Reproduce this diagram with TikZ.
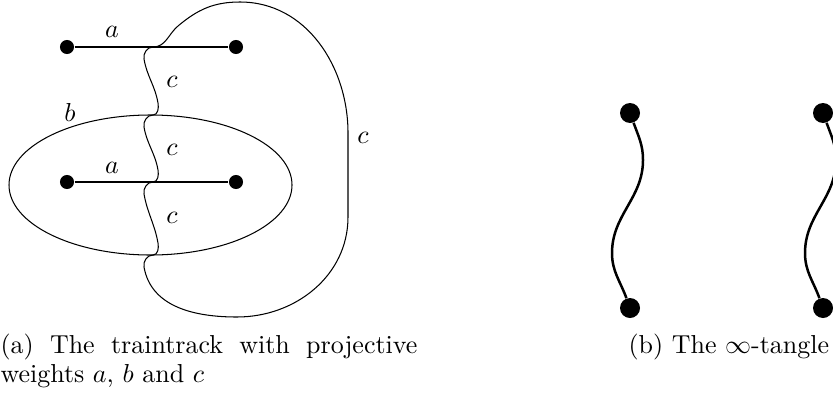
\documentclass[tikz,border=0pt]{standalone}
\usetikzlibrary{positioning}

\begin{document}
\begin{tikzpicture}[
    x=0.385pt, y=0.385pt,
    track/.style={line width=0.4pt},
    bar/.style={line width=0.6pt},
    dot/.style={circle, fill, inner sep=0pt, minimum size=5.4pt},
    bigdot/.style={circle, fill, inner sep=0pt, minimum size=7.7pt},
    strand/.style={line width=0.96pt},
    caption/.style={inner sep=0pt, font=\fontsize{10}{11.2}\selectfont}
]
    \clip (0,0) rectangle (833,393);

    % (a) the traintrack
    \node[dot] (tl) at (67,346) {};
    \node[dot] (tr) at (236,346) {};
    \node[dot] (bl) at (67,211) {};
    \node[dot] (br) at (236,211) {};
    \coordinate (j1) at (153,346);
    \coordinate (j2) at (153,278);
    \coordinate (j3) at (153,211);
    \coordinate (j4) at (153,138);

    \draw[bar] (tl) -- (tr);
    \draw[bar] (bl) -- (br);
    \draw[track] (150.5,208) ellipse [x radius=141.5, y radius=70];

    \draw[track] (j1) to[out=180,in=100] (144,334) to[out=-80,in=100] (158,290) to[out=-80,in=0] (j2);
    \draw[track] (j2) to[out=180,in=100] (144,266) to[out=-80,in=100] (158,223) to[out=-80,in=0] (j3);
    \draw[track] (j3) to[out=180,in=100] (144,199) to[out=-80,in=100] (158,150) to[out=-80,in=0] (j4);
    \draw[track] (j4) to[out=180,in=100] (144,126) to[out=-80,in=180] (237,76)
        to[out=0,in=-90] (348,176) -- (348,260) to[out=90,in=0] (240,391)
        to[out=180,in=40] (178,367) to[out=220,in=0] (j1);

    \node (a1) at (112,361) {$a$};
    \node (a2) at (112,225) {$a$};
    \node (b) at (70,281) {$b$};
    \node (c1) at (172,311) {$c$};
    \node (c2) at (172,243) {$c$};
    \node (c3) at (172,175) {$c$};
    \node (c4) at (363,255) {$c$};

    \node[caption, anchor=north west, text width=160.5pt, align=justify] (capa) at (0,60)
        {(a) The traintrack with projective weights $a$, $b$ and $c$};

    % (b) the infinity-tangle
    \node[bigdot] (p1) at (630,280) {};
    \node[bigdot] (q1) at (630,85) {};
    \node[bigdot] (p2) at (823,280) {};
    \node[bigdot] (q2) at (823,85) {};

    \draw[strand] (p1) to[out=-70,in=90] (643,233) to[out=-90,in=90] (612,140) to[out=-90,in=110] (q1);
    \draw[strand] (p2) to[out=-70,in=90] (836,233) to[out=-90,in=90] (805,140) to[out=-90,in=110] (q2);

    \node[caption, anchor=base west] (capb) at (628,40) {(b) The $\infty$-tangle};
\end{tikzpicture}
\end{document}
